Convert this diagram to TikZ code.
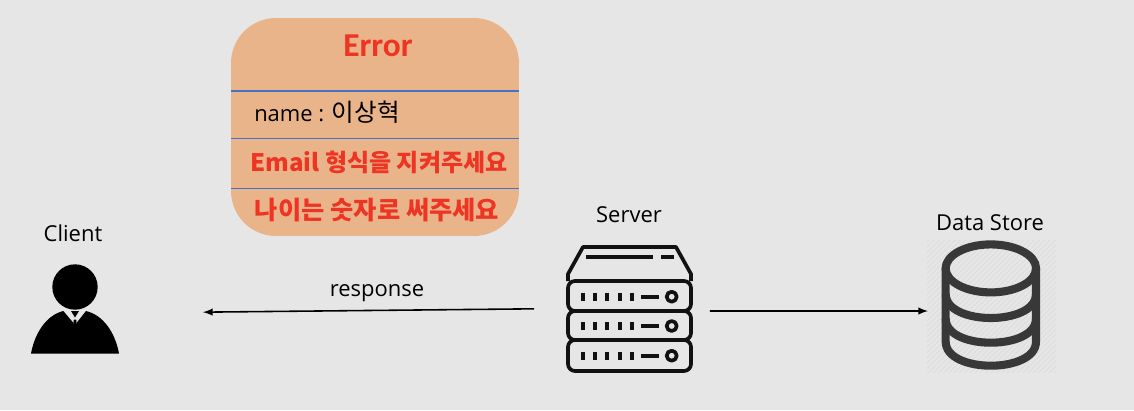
\documentclass[tikz,border=0pt]{standalone}
\usepackage{fontspec}
\setmainfont{Open Sans}
\newfontfamily\kor{Noto Sans CJK KR}
\newfontfamily\titlefont{Carlito}
\usetikzlibrary{patterns}
\definecolor{bgcol}{HTML}{E6E6E6}
\definecolor{cardcol}{HTML}{EAB48B}
\definecolor{rulecol}{HTML}{4472C4}
\definecolor{errcol}{HTML}{EE3524}
\definecolor{srvcol}{HTML}{111111}
\definecolor{dbcol}{HTML}{383838}
\definecolor{hatchcol}{HTML}{DCDCDC}
\tikzset{
  label/.style={font=\fontsize{12.5}{15}\selectfont},
  errtext/.style={text=errcol,font=\fontsize{14.4}{17}\selectfont\kor\bfseries},
  anchorbox/.style={inner sep=0pt,outer sep=0pt},
  link/.style={-latex,line width=0.9pt,black},
  srvline/.style={srvcol,line width=2.1pt,line join=round},
  dbline/.style={dbcol,line width=4.6pt}
}
\begin{document}
\begin{tikzpicture}[x=0.02cm,y=-0.02cm]
\useasboundingbox (0,0) rectangle (1134,410);
\fill[bgcol] (0,0) rectangle (1134,410);

\node (errorbox) at (375,127) [anchorbox,fill=cardcol,rounded corners=0.9cm,minimum width=5.76cm,minimum height=4.36cm] {};
\foreach \y in {91,138.5,188.5}
  \draw[rulecol,line width=1pt] (errorbox.west |- 0,\y) -- (errorbox.east |- 0,\y);
\node (errortitle) at (378,46) [text=errcol,font=\fontsize{19}{22}\selectfont\titlefont\bfseries] {Error};
\node (namerow) at (327,112) [label] {name : {\kor\fontsize{14}{15}\selectfont 이상혁}};
\node (emailrow) at (379,162) [errtext,font=\fontsize{13.7}{17}\selectfont\kor\bfseries] {Email 형식을 지켜주세요};
\node (agerow) at (377,210) [errtext] {나이는 숫자로 써주세요};

\node (clientlabel) at (73,233) [label] {Client};
\node (serverlabel) at (629,215) [label] {Server};
\node (storelabel) at (990,223) [label] {Data Store};
\node (resplabel) at (377,293) [label] {response};

\node (client) at (75,309) [anchorbox,minimum width=1.76cm,minimum height=1.8cm] {};
\node (server) at (629.5,308.5) [anchorbox,minimum width=2.54cm,minimum height=2.54cm] {};
\node (store) at (991,306) [anchorbox,minimum width=1.96cm,minimum height=2.64cm] {};

\draw[link,shorten <=0.64cm,shorten >=1.68cm] (server.west) -- ([yshift=-0.08cm]client.east);
\draw[link,shorten <=0.34cm,shorten >=0.28cm] ([yshift=-0.05cm]server.east) -- ([yshift=-0.1cm]store.west);

% client
\fill (75,287) circle (0.454cm);
\fill (31,353.5) .. controls (35,332) and (47,315) .. (63.3,311) -- (73.5,323) -- (76.5,323) -- (86,311) .. controls (103,315) and (115,332) .. (119,353.5) -- cycle;
\fill (71,311) -- (79,311) -- (75,317.5) -- cycle;
\fill[bgcol] (73.2,318.5) -- (76.8,318.5) -- (76.8,323.5) -- (73.2,323.5) -- cycle;
\fill (73.8,319.5) -- (76.2,319.5) -- (76.8,324) -- (73.2,324) -- cycle;

% server
\draw[srvline] (568,281) -- (568,274) -- (583,247) -- (676,247) -- (691,274) -- (691,281);
\draw[srvline,line width=2.5pt] (586,257) -- (653,257);
\draw[srvline,line width=2.5pt] (661,257) -- (674,257);
\foreach \top/\mid/\bot in {281/296.7/311,311/326/340,340/355.7/371} {
  \draw[srvline,rounded corners=0.14cm] (568,\top) rectangle (691,\bot);
  \foreach \x in {582.7,595,607.3,620,632.3}
    \draw[srvline,line width=2.5pt] (\x,\mid-4) -- (\x,\mid+4);
  \draw[srvline] (641,\mid) -- (659,\mid);
  \draw[srvline] (671.7,\mid) circle (0.1cm);
}

% data store
\fill[pattern=north east lines,pattern color=hatchcol] (927,240) rectangle (1056,372);
\draw[dbline] (990.85,268.4) circle [x radius=0.905cm,y radius=0.48cm];
\draw[dbline] (945.7,268.4) -- (945.7,341.7) .. controls (945.7,373.7) and (1036,373.7) .. (1036,341.7) -- (1036,268.4);
\foreach \y in {294,318.7}
  \draw[dbline] (945.7,\y) .. controls (945.7,\y+32) and (1036,\y+32) .. (1036,\y);
\end{tikzpicture}
\end{document}
